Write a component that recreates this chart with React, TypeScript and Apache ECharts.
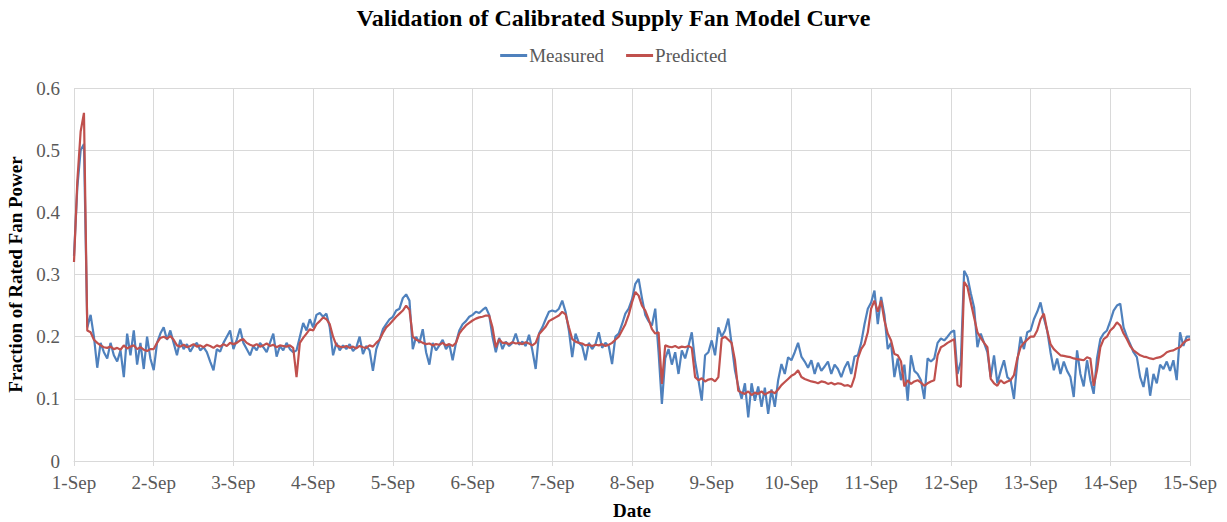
import React, { useEffect, useRef } from "react";
import * as echarts from "echarts";

const title = "Validation of Calibrated Supply Fan Model Curve";
const seriesNames = ["Measured", "Predicted"];
const dayLabels = ["1-Sep", "2-Sep", "3-Sep", "4-Sep", "5-Sep", "6-Sep", "7-Sep", "8-Sep", "9-Sep", "10-Sep", "11-Sep", "12-Sep", "13-Sep", "14-Sep", "15-Sep"];
const yTicks = [0, 0.1, 0.2, 0.3, 0.4, 0.5, 0.6];
const yAxisName = "Fraction of Rated Fan Power";
const xAxisName = "Date";

// hourly values, hour 0 = 1-Sep 00:00
const measured = [
  // 1-Sep
  0.33, 0.44, 0.5, 0.51, 0.215, 0.235, 0.2, 0.15, 0.19, 0.175, 0.165, 0.19, 0.17, 0.16, 0.178, 0.135, 0.205, 0.17, 0.21, 0.155, 0.19, 0.148, 0.2, 0.165,
  // 2-Sep
  0.146, 0.19, 0.205, 0.215, 0.195, 0.21, 0.19, 0.17, 0.195, 0.18, 0.188, 0.176, 0.185, 0.19, 0.178, 0.183, 0.175, 0.16, 0.146, 0.18, 0.176, 0.19, 0.2, 0.21,
  // 3-Sep
  0.18, 0.195, 0.213, 0.19, 0.18, 0.17, 0.185, 0.178, 0.19, 0.183, 0.175, 0.19, 0.205, 0.168, 0.185, 0.178, 0.19, 0.18, 0.175, 0.178, 0.2, 0.222, 0.21, 0.228,
  // 4-Sep
  0.215, 0.235, 0.238, 0.232, 0.237, 0.215, 0.17, 0.19, 0.178, 0.186, 0.18, 0.188, 0.177, 0.183, 0.2, 0.172, 0.185, 0.178, 0.145, 0.18, 0.195, 0.212, 0.22, 0.228,
  // 5-Sep
  0.232, 0.242, 0.245, 0.262, 0.268, 0.258, 0.18, 0.2, 0.19, 0.212, 0.175, 0.155, 0.19, 0.178, 0.186, 0.195, 0.18, 0.188, 0.162, 0.19, 0.21, 0.22, 0.225, 0.232,
  // 6-Sep
  0.235, 0.24, 0.238, 0.243, 0.247, 0.235, 0.2, 0.175, 0.198, 0.18, 0.192, 0.185, 0.19, 0.205, 0.187, 0.192, 0.185, 0.203, 0.178, 0.148, 0.205, 0.215, 0.228, 0.24,
  // 7-Sep
  0.242, 0.24, 0.245, 0.258, 0.24, 0.21, 0.167, 0.205, 0.19, 0.185, 0.162, 0.19, 0.18, 0.188, 0.207, 0.182, 0.19, 0.185, 0.156, 0.2, 0.205, 0.22, 0.237, 0.245,
  // 8-Sep
  0.26, 0.285, 0.293, 0.262, 0.235, 0.225, 0.218, 0.245, 0.175, 0.092, 0.165, 0.18, 0.155, 0.175, 0.14, 0.178, 0.165, 0.185, 0.207, 0.16, 0.13, 0.097, 0.17, 0.175,
  // 9-Sep
  0.194, 0.17, 0.215, 0.2, 0.21, 0.229, 0.188, 0.146, 0.12, 0.1, 0.125, 0.07, 0.125, 0.097, 0.12, 0.087, 0.118, 0.076, 0.115, 0.087, 0.13, 0.156, 0.14, 0.167,
  // 10-Sep
  0.162, 0.175, 0.19, 0.168, 0.16, 0.15, 0.162, 0.14, 0.158, 0.145, 0.152, 0.16, 0.14, 0.155, 0.148, 0.135, 0.15, 0.16, 0.14, 0.168, 0.17, 0.19, 0.22, 0.245,
  // 11-Sep
  0.255, 0.274, 0.22, 0.264, 0.235, 0.18, 0.19, 0.135, 0.165, 0.13, 0.155, 0.097, 0.17, 0.145, 0.14, 0.13, 0.1, 0.165, 0.16, 0.165, 0.19, 0.197, 0.194, 0.2,
  // 12-Sep
  0.207, 0.21, 0.14, 0.16, 0.306, 0.296, 0.27, 0.247, 0.183, 0.205, 0.19, 0.175, 0.135, 0.17, 0.125, 0.145, 0.162, 0.135, 0.13, 0.1, 0.16, 0.2, 0.18, 0.207,
  // 13-Sep
  0.21, 0.228, 0.24, 0.255, 0.23, 0.21, 0.175, 0.146, 0.165, 0.14, 0.16, 0.145, 0.135, 0.103, 0.178, 0.14, 0.12, 0.162, 0.13, 0.108, 0.165, 0.196, 0.205, 0.21,
  // 14-Sep
  0.225, 0.242, 0.25, 0.253, 0.215, 0.2, 0.188, 0.175, 0.167, 0.135, 0.119, 0.15, 0.105, 0.14, 0.125, 0.155, 0.148, 0.16, 0.145, 0.162, 0.13, 0.207, 0.185, 0.2,
  // 15-Sep
  0.2,
];

const predicted = [
  // 1-Sep
  0.32, 0.45, 0.53, 0.56, 0.21, 0.207, 0.195, 0.19, 0.186, 0.183, 0.182, 0.184, 0.18, 0.182, 0.179, 0.186, 0.181, 0.184, 0.186, 0.18, 0.183, 0.179, 0.177, 0.18,
  // 2-Sep
  0.18, 0.19, 0.198, 0.2, 0.197, 0.201, 0.195, 0.186, 0.184, 0.187, 0.183, 0.185, 0.188, 0.184, 0.186, 0.183, 0.187, 0.185, 0.182, 0.186, 0.184, 0.188, 0.185, 0.19,
  // 3-Sep
  0.188, 0.19, 0.194, 0.196, 0.19, 0.187, 0.185, 0.188, 0.184, 0.186, 0.189, 0.185, 0.187, 0.183, 0.186, 0.185, 0.184, 0.186, 0.182, 0.135, 0.19, 0.198, 0.205, 0.212,
  // 4-Sep
  0.21, 0.22, 0.225, 0.231, 0.228, 0.22, 0.2, 0.186, 0.184, 0.183, 0.185, 0.182, 0.184, 0.181, 0.185, 0.183, 0.182, 0.186, 0.184, 0.19, 0.195, 0.206, 0.215, 0.22,
  // 5-Sep
  0.226, 0.232, 0.237, 0.242, 0.25, 0.243, 0.2, 0.195, 0.193, 0.19, 0.188, 0.189, 0.186, 0.188, 0.187, 0.19, 0.186, 0.188, 0.185, 0.19, 0.205, 0.212, 0.218, 0.222,
  // 6-Sep
  0.226, 0.229, 0.231, 0.232, 0.234, 0.234, 0.215, 0.183, 0.196, 0.19, 0.19, 0.188, 0.191, 0.189, 0.19, 0.188, 0.191, 0.189, 0.186, 0.19, 0.204, 0.21, 0.216, 0.225,
  // 7-Sep
  0.228, 0.231, 0.234, 0.24, 0.236, 0.215, 0.196, 0.192, 0.19, 0.189, 0.186, 0.187, 0.185, 0.187, 0.186, 0.188, 0.185, 0.187, 0.19, 0.195, 0.2, 0.21, 0.22, 0.235,
  // 8-Sep
  0.255, 0.272, 0.266, 0.25, 0.242, 0.228, 0.212, 0.205, 0.207, 0.124, 0.186, 0.184, 0.183, 0.185, 0.182, 0.184, 0.183, 0.185, 0.182, 0.135, 0.13, 0.133, 0.128, 0.131,
  // 9-Sep
  0.132, 0.128, 0.135, 0.197, 0.2, 0.195, 0.19, 0.162, 0.113, 0.11, 0.108, 0.112, 0.106, 0.11, 0.108, 0.112, 0.107, 0.11, 0.112, 0.109, 0.115, 0.122, 0.127, 0.132,
  // 10-Sep
  0.137, 0.14, 0.146, 0.135, 0.132, 0.13, 0.128, 0.127, 0.125, 0.128, 0.127, 0.124, 0.126, 0.123, 0.125, 0.124, 0.121, 0.122, 0.119, 0.135, 0.165, 0.18, 0.188, 0.207,
  // 11-Sep
  0.245, 0.258, 0.24, 0.258, 0.226, 0.205, 0.194, 0.172, 0.17, 0.16, 0.12, 0.13, 0.124, 0.128, 0.13, 0.126, 0.121, 0.125, 0.128, 0.13, 0.17, 0.183, 0.186, 0.19,
  // 12-Sep
  0.193, 0.196, 0.122, 0.119, 0.288, 0.28, 0.255, 0.231, 0.207, 0.198, 0.19, 0.183, 0.132, 0.125, 0.121, 0.13, 0.125, 0.128, 0.13, 0.138, 0.165, 0.183, 0.19, 0.195,
  // 13-Sep
  0.2, 0.2, 0.21, 0.228, 0.237, 0.21, 0.188, 0.18, 0.175, 0.17, 0.169, 0.168, 0.167, 0.165, 0.164, 0.163, 0.162, 0.167, 0.165, 0.121, 0.146, 0.183, 0.196, 0.2,
  // 14-Sep
  0.21, 0.215, 0.223, 0.218, 0.205, 0.196, 0.185, 0.178, 0.174, 0.17, 0.168, 0.167, 0.165, 0.164, 0.166, 0.167, 0.17, 0.175, 0.177, 0.178, 0.181, 0.183, 0.19, 0.194,
  // 15-Sep
  0.196,
];

const HOURS_PER_DAY = 24;
const FONT = "'Liberation Serif', 'Times New Roman', serif";

export default function App() {
  const ref = useRef<HTMLDivElement>(null);

  useEffect(() => {
    document.body.style.margin = "0";
    if (!ref.current) return;
    const chart = echarts.init(ref.current, undefined, { renderer: "svg" });
    const toPairs = (arr: number[]) => arr.map((v, i) => [i, v]);
    chart.setOption({
      animation: false,
      backgroundColor: "#ffffff",
      textStyle: { fontFamily: FONT },
      title: {
        text: title,
        left: "center",
        top: 1,
        textStyle: { fontFamily: FONT, fontSize: 24, fontWeight: "bold", color: "#000000" },
      },
      legend: {
        data: seriesNames,
        top: 41,
        left: "center",
        icon: "rect",
        itemWidth: 27,
        itemHeight: 3,
        itemGap: 22,
        textStyle: { fontFamily: FONT, fontSize: 19, color: "#595959", padding: [0, 0, 0, -3] },
      },
      grid: { left: 74, right: 37, top: 88, bottom: 61, containLabel: false, outerBoundsMode: "none" },
      xAxis: {
        type: "value",
        min: 0,
        max: (dayLabels.length - 1) * HOURS_PER_DAY,
        interval: HOURS_PER_DAY,
        name: xAxisName,
        nameLocation: "middle",
        nameGap: 40,
        nameTextStyle: { fontFamily: FONT, fontSize: 19, fontWeight: "bold", color: "#000000" },
        axisLine: { show: true, lineStyle: { color: "#d9d9d9", width: 1 } },
        axisTick: { show: true, length: 5, lineStyle: { color: "#d9d9d9" } },
        axisLabel: {
          fontFamily: FONT,
          fontSize: 19,
          color: "#595959",
          margin: 12,
          formatter: (v: number) => dayLabels[Math.round(v / HOURS_PER_DAY)] ?? "",
        },
        splitLine: { show: true, lineStyle: { color: "#d9d9d9", width: 1 } },
      },
      yAxis: {
        type: "value",
        min: yTicks[0],
        max: yTicks[yTicks.length - 1],
        interval: 0.1,
        name: yAxisName,
        nameLocation: "middle",
        nameGap: 49,
        nameTextStyle: { fontFamily: FONT, fontSize: 19, fontWeight: "bold", color: "#000000" },
        axisLine: { show: false },
        axisTick: { show: false },
        axisLabel: {
          fontFamily: FONT,
          fontSize: 19,
          color: "#595959",
          margin: 14,
          formatter: (v: number) => String(Math.round(v * 10) / 10),
        },
        splitLine: { show: true, lineStyle: { color: "#d9d9d9", width: 1 } },
      },
      series: [
        {
          name: seriesNames[0],
          type: "line",
          data: toPairs(measured),
          showSymbol: false,
          symbol: "none",
          lineStyle: { color: "#4F81BD", width: 2.2 },
          itemStyle: { color: "#4F81BD" },
          z: 2,
        },
        {
          name: seriesNames[1],
          type: "line",
          data: toPairs(predicted),
          showSymbol: false,
          symbol: "none",
          lineStyle: { color: "#C0504D", width: 2.2 },
          itemStyle: { color: "#C0504D" },
          z: 3,
        },
      ],
    });
    return () => chart.dispose();
  }, []);

  return <div ref={ref} style={{ width: 1227, height: 522 }} />;
}
